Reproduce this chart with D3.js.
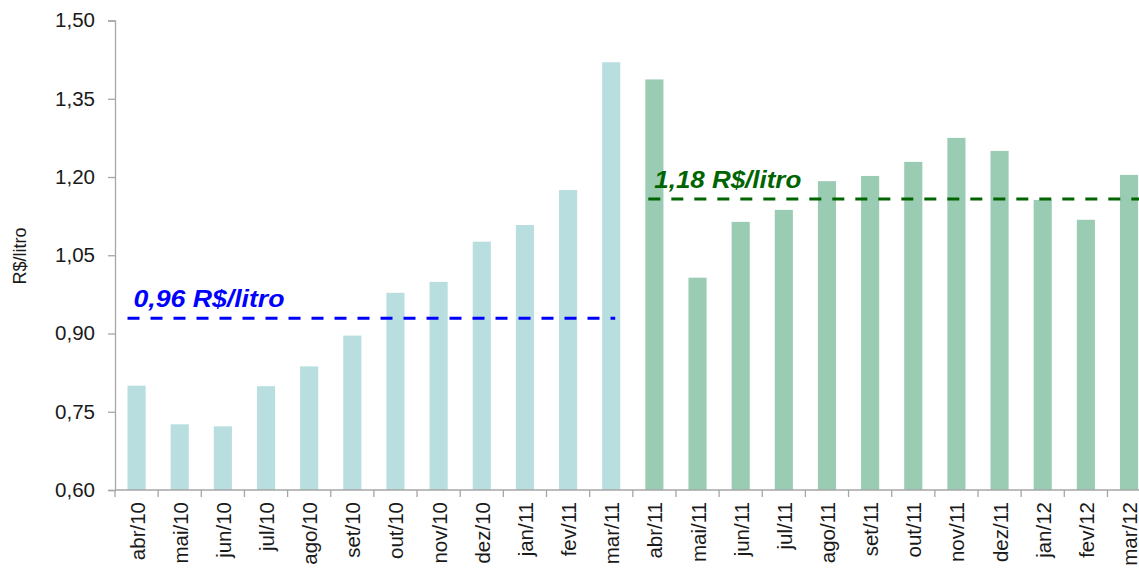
<!DOCTYPE html>
<html>
<head>
<meta charset="utf-8">
<script src="https://cdn.jsdelivr.net/npm/d3@7"></script>
<style>
  body { margin: 0; background: #fff; }
  text { font-family: "Liberation Sans", Arial, sans-serif; }
</style>
</head>
<body>
<div id="chart"></div>
<script>
// dados
var meses = ["abr/10","mai/10","jun/10","jul/10","ago/10","set/10","out/10","nov/10","dez/10","jan/11","fev/11","mar/11",
             "abr/11","mai/11","jun/11","jul/11","ago/11","set/11","out/11","nov/11","dez/11","jan/12","fev/12","mar/12"];
var precos = [0.800, 0.726, 0.722, 0.799, 0.837, 0.896, 0.978, 0.999, 1.076, 1.108, 1.175, 1.420,
              1.387, 1.007, 1.114, 1.137, 1.192, 1.202, 1.229, 1.275, 1.250, 1.156, 1.118, 1.204];
var periodo = ["a","a","a","a","a","a","a","a","a","a","a","a",
               "b","b","b","b","b","b","b","b","b","b","b","b"];
var yTicks = [0.60, 0.75, 0.90, 1.05, 1.20, 1.35, 1.50];
var medias = [
  {label: "0,96 R$/litro", valor: 0.929, de: "abr/10", ate: "mar/11"},
  {label: "1,18 R$/litro", valor: 1.158, de: "abr/11", ate: "mar/12"}
];

var W = 1139, H = 569;
var mLeft = 115, mTop = 20.5, mBottom = 490;
var band = 43.15;

var svg = d3.select("#chart").append("svg")
    .attr("width", W)
    .attr("height", H);

var x = d3.scaleBand()
  .domain(meses)
  .range([mLeft, mLeft + band * meses.length])
  .paddingInner(0.58)
  .paddingOuter(0.29);

var y = d3.scaleLinear()
  .domain([0.60, 1.50])
  .range([mBottom, mTop]);

var fmt = function(v) { return d3.format(".2f")(v).replace(".", ","); };

// barras
svg.selectAll(".bar")
  .data(meses)
  .enter().append("rect")
    .attr("class", "bar")
    .attr("x", function(d) { return x(d); })
    .attr("y", function(d, i) { return y(precos[i]); })
    .attr("width", x.bandwidth())
    .attr("height", function(d, i) { return mBottom - y(precos[i]); })
    .attr("fill", function(d, i) { return periodo[i] == "a" ? "#b8dee0" : "#9acbb3"; });

// eixo y
var yAxis = d3.axisLeft(y)
  .tickValues(yTicks)
  .tickFormat(fmt)
  .tickSize(7)
  .tickPadding(13);

var gy = svg.append("g")
  .attr("transform", "translate(" + mLeft + ",0)")
  .call(yAxis);
gy.select(".domain").attr("stroke", "#a6a6a6").attr("stroke-width", 1.3);
gy.selectAll(".tick line").attr("stroke", "#a6a6a6").attr("stroke-width", 1.3);
gy.selectAll(".tick text")
  .attr("font-size", 20)
  .attr("fill", "#1a1a1a")
  .attr("textLength", 40)
  .attr("lengthAdjust", "spacingAndGlyphs")
  .attr("font-family", "Liberation Sans, Arial, sans-serif");

// eixo x
svg.append("line")
  .attr("x1", mLeft).attr("x2", W)
  .attr("y1", mBottom).attr("y2", mBottom)
  .attr("stroke", "#a6a6a6").attr("stroke-width", 1.3);

svg.selectAll(".xtick")
  .data(meses)
  .enter().append("line")
    .attr("class", "xtick")
    .attr("x1", function(d) { return x(d) - x.step() * x.paddingInner() / 2; })
    .attr("x2", function(d) { return x(d) - x.step() * x.paddingInner() / 2; })
    .attr("y1", mBottom)
    .attr("y2", mBottom + 7)
    .attr("stroke", "#a6a6a6").attr("stroke-width", 1.3);

svg.selectAll(".xlabel")
  .data(meses)
  .enter().append("text")
    .attr("class", "xlabel")
    .attr("transform", function(d) {
      return "translate(" + (x(d) + x.bandwidth() / 2 + 8) + "," + (mBottom + 12) + ") rotate(-90)";
    })
    .attr("text-anchor", "end")
    .attr("font-size", 20.5)
    .attr("fill", "#1a1a1a")
    .text(function(d) { return d; });

// titulo eixo y
svg.append("text")
  .attr("transform", "translate(26,256) rotate(-90)")
  .attr("text-anchor", "middle")
  .attr("font-size", 18)
  .attr("fill", "#1a1a1a")
  .text("R$/litro");

// linhas de media
var cores = ["#0000ff", "#006400"];
var largura = [151, 147];
medias.forEach(function(m, i) {
  var x1 = i == 0 ? x(m.de) : x(m.de) + 3;
  var x2 = i == 0 ? x(m.ate) + x.bandwidth() / 2 + 4 : W;
  svg.append("line")
    .attr("x1", x1).attr("x2", x2)
    .attr("y1", y(m.valor)).attr("y2", y(m.valor))
    .attr("stroke", cores[i])
    .attr("stroke-width", 3)
    .attr("stroke-dasharray", "12,11");
  svg.append("text")
    .attr("x", x1 + 6)
    .attr("y", y(m.valor) - 11)
    .attr("font-size", 23.5)
    .attr("font-weight", "bold")
    .attr("font-style", "italic")
    .attr("fill", cores[i])
    .attr("textLength", largura[i])
    .attr("lengthAdjust", "spacingAndGlyphs")
    .text(m.label);
});
</script>
</body>
</html>
